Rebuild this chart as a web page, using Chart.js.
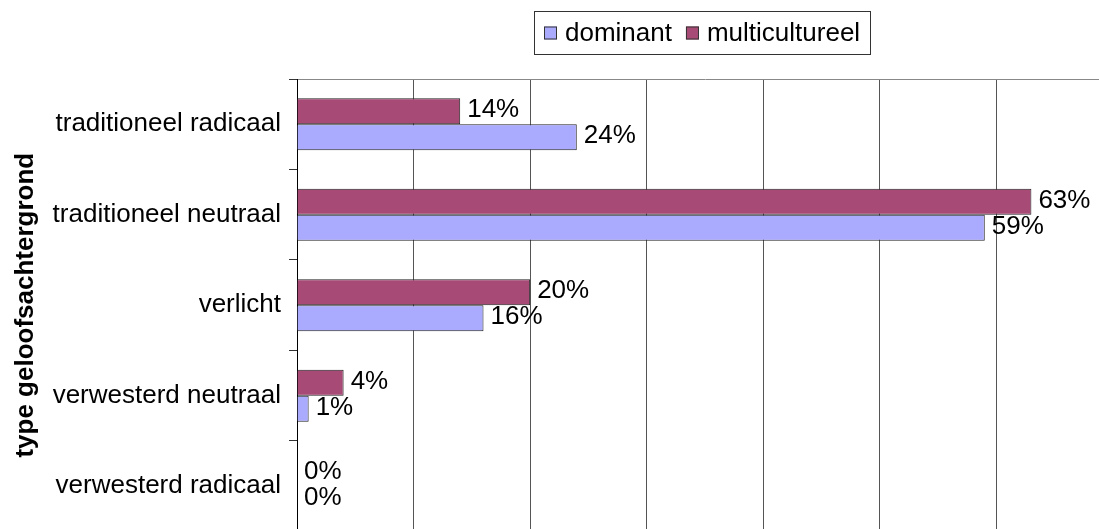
<!DOCTYPE html>
<html>
<head>
<meta charset="utf-8">
<script src="https://cdn.jsdelivr.net/npm/chart.js@4.4.0/dist/chart.umd.min.js"></script>
<style>
    html, body { margin: 0; padding: 0; background: #fff; overflow: hidden; }
</style>
</head>
<body>
<canvas id="BarChart" width="1120" height="555"></canvas>
<script>
const categories = ['traditioneel radicaal', 'traditioneel neutraal', 'verlicht', 'verwesterd neutraal', 'verwesterd radicaal'];
const multicultureel = [14, 63, 20, 4, 0];
const dominant = [24, 59, 16, 1, 0];
const xTicks = [0, 10, 20, 30, 40, 50, 60, 70];
const axisTitle = 'type geloofsachtergrond';

const font = "'Liberation Sans', Arial, sans-serif";

// percentage next to each bar
const barLabels = {
    id: 'barLabels',
    afterDatasetsDraw(chart) {
        const c = chart.ctx;
        c.save();
        c.font = '26px ' + font;
        c.fillStyle = '#000';
        c.textAlign = 'left';
        c.textBaseline = 'middle';
        chart.data.datasets.forEach((ds, i) => {
            chart.getDatasetMeta(i).data.forEach((bar, j) => {
                c.fillText(ds.data[j] + '%', bar.x + 7, bar.y - 1);
            });
        });
        c.restore();
    }
};

// boxed legend on top, dominant listed first
const boxLegend = {
    id: 'boxLegend',
    afterDraw(chart) {
        const c = chart.ctx;
        const items = chart.data.datasets.slice().reverse();
        c.save();
        c.font = '26px ' + font;
        const sq = 13, gap = 8, between = 14, pad = 10;
        let w = pad * 2;
        items.forEach((ds, i) => {
            w += sq + gap + c.measureText(ds.label).width + (i ? between : 0);
        });
        const cx = 702, top = 11, h = 43;
        const left = Math.round(cx - w / 2);
        c.strokeStyle = '#333';
        c.lineWidth = 1;
        c.strokeRect(left + 0.5, top + 0.5, Math.round(w), h);
        let x = left + pad;
        const mid = top + h / 2;
        items.forEach((ds) => {
            c.fillStyle = ds.backgroundColor;
            c.fillRect(x, mid - 6, sq, sq);
            c.strokeStyle = '#333';
            c.strokeRect(x + 0.5, mid - 5.5, sq - 1, sq - 1);
            x += sq + gap;
            c.fillStyle = '#000';
            c.textAlign = 'left';
            c.textBaseline = 'middle';
            c.fillText(ds.label, x, mid + 1);
            x += c.measureText(ds.label).width + between;
        });
        c.restore();
    }
};

new Chart(document.getElementById('BarChart'), {
    type: 'bar',
    data: {
        labels: categories,
        datasets: [{
            label: 'multicultureel',
            data: multicultureel,
            backgroundColor: '#a84a76',
            borderColor: '#222',
            borderWidth: 1,
            categoryPercentage: 0.575,
            barPercentage: 1.0
        }, {
            label: 'dominant',
            data: dominant,
            backgroundColor: '#aaaaff',
            borderColor: '#222',
            borderWidth: 1,
            categoryPercentage: 0.575,
            barPercentage: 1.0
        }]
    },
    options: {
        indexAxis: 'y',
        responsive: false,
        animation: false,
        layout: {
            padding: { top: 79, right: 7, bottom: 8, left: 0 }
        },
        plugins: {
            legend: { display: false },
            tooltip: { enabled: false }
        },
        scales: {
            x: {
                min: 0,
                max: 70,
                afterBuildTicks: (scale) => { scale.ticks = xTicks.map(v => ({ value: v })); },
                afterFit: (scale) => { scale.height = 0; },
                ticks: { display: false },
                grid: { color: '#555', drawTicks: false },
                border: { display: false }
            },
            xTop: {
                position: 'top',
                min: 0,
                max: 70,
                afterFit: (scale) => { scale.height = 0; },
                ticks: { display: false },
                grid: { display: false },
                border: { color: '#888' }
            },
            y: {
                afterFit: (scale) => { scale.width = 297; },
                ticks: {
                    color: '#000',
                    padding: 8,
                    font: { family: font, size: 26 }
                },
                grid: { drawOnChartArea: false, color: '#333', tickLength: 8 },
                border: { color: '#000' },
                title: {
                    display: true,
                    text: axisTitle,
                    color: '#000',
                    padding: { top: 10, bottom: 0 },
                    font: { family: font, size: 26, weight: 'bold' }
                }
            }
        }
    },
    plugins: [barLabels, boxLegend]
});
</script>
</body>
</html>
